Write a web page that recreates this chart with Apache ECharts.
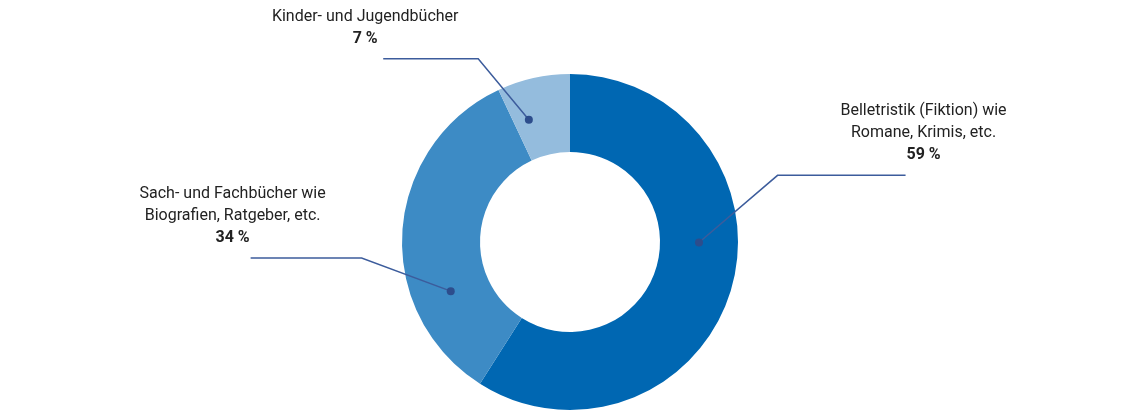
<!DOCTYPE html>
<html>
<head>
<meta charset="utf-8">
<script src="https://cdn.jsdelivr.net/npm/echarts@6/dist/echarts.min.js"></script>
<style>
  html, body { margin: 0; padding: 0; background: #fff; }
  #main { width: 1140px; height: 418px; }
</style>
</head>
<body>
<div id="main"></div>
<script>
// Buchkategorien, Anteil in %
const categories = [
  'Belletristik (Fiktion) wie\nRomane, Krimis, etc.',
  'Sach- und Fachbücher wie\nBiografien, Ratgeber, etc.',
  'Kinder- und Jugendbücher'
]
const shares = [59, 34, 7]
const colors = ['#0067b2', '#3d8bc5', '#94bcdd']

// Ring geometry (px)
const cx = 570, cy = 242
const rIn = 90, rOut = 168
const rMid = (rIn + rOut) / 2

// where the leader lines go, relative to each slice's middle angle (deg)
const dotShift = [-16, -26, -6]
const elbowShift = [-34, -8, -14]
const elbowR = [218, 209, 205]
const run = [128, -111, -95]   // horizontal leg, + = right

const total = shares.reduce((a, b) => a + b, 0)
const midAngles = []
let acc = 0
shares.forEach(v => {
  const a = v / total * 360
  midAngles.push(acc + a / 2)
  acc += a
})

function polar(deg, r) {
  const t = deg * Math.PI / 180
  return [cx + r * Math.sin(t), cy - r * Math.cos(t)]
}

function leader(i) {
  const dot = polar(midAngles[i] + dotShift[i], rMid)
  const elbow = polar(midAngles[i] + elbowShift[i], elbowR[i])
  const end = [elbow[0] + run[i], elbow[1]]
  return [dot, elbow, end]
}

const chart = echarts.init(document.getElementById('main'), null, { renderer: 'canvas' })

const pieData = categories.map((name, i) => ({
  name,
  value: shares[i],
  itemStyle: { color: colors[i] }
}))

const option = {
  animation: false,
  backgroundColor: '#ffffff',
  textStyle: { fontFamily: 'Roboto' },
  series: [
    {
      type: 'pie',
      center: [cx, cy],
      radius: [rIn, rOut],
      startAngle: 90,
      clockwise: true,
      silent: true,
      data: pieData,
      label: {
        show: true,
        position: 'outside',
        formatter: p => p.name.split('\n').map(l => `{n|${l}}`).join('\n') + `\n{v|${p.value} %}`,
        rich: {
          n: { fontFamily: 'Roboto', fontSize: 16, color: '#222', lineHeight: 22, align: 'center' },
          v: { fontFamily: 'Roboto', fontSize: 16, fontWeight: 'bold', color: '#222', lineHeight: 22, align: 'center' }
        }
      },
      labelLine: { show: false },
      labelLayout: params => {
        const i = params.dataIndex
        const end = leader(i)[2]
        return {
          x: end[0] + (run[i] > 0 ? 18 : -18),
          y: end[1] - 9,
          align: 'center',
          verticalAlign: 'bottom'
        }
      }
    },
    {
      // leader lines + dots, drawn above the ring
      type: 'pie',
      center: [cx, cy],
      radius: [rIn, rOut],
      startAngle: 90,
      silent: true,
      z: 5,
      data: pieData.map(d => ({ name: d.name, value: d.value, itemStyle: { color: 'transparent' } })),
      label: {
        show: true,
        position: 'outside',
        formatter: ' ',
        fontSize: 4,
        lineHeight: 8,
        width: 8,
        height: 8,
        padding: 0,
        backgroundColor: '#2d4d8c',
        borderRadius: 4
      },
      labelLine: {
        show: true,
        lineStyle: { color: '#3c5c9c', width: 1.5 }
      },
      labelLayout: params => {
        const pts = leader(params.dataIndex)
        return {
          x: pts[0][0],
          y: pts[0][1],
          align: 'center',
          verticalAlign: 'middle',
          labelLinePoints: pts
        }
      }
    }
  ]
}

chart.setOption(option)
</script>
</body>
</html>
